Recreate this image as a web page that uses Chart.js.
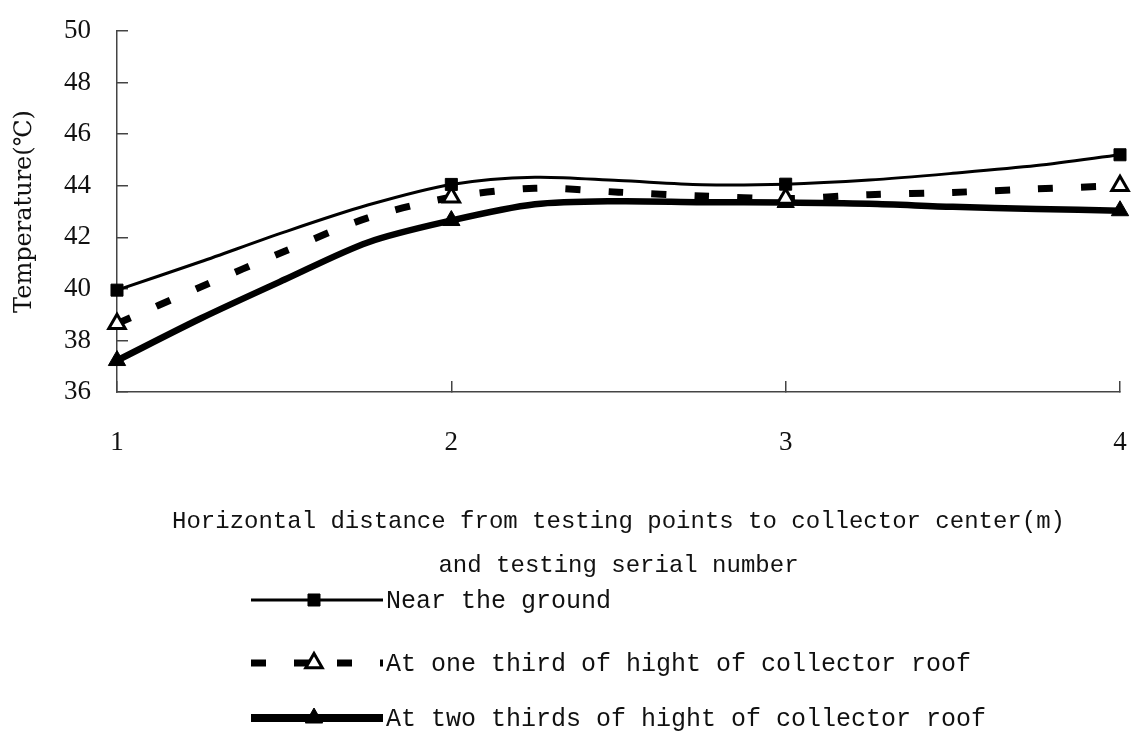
<!DOCTYPE html>
<html>
<head>
<meta charset="utf-8">
<script src="https://cdn.jsdelivr.net/npm/chart.js@4/dist/chart.umd.min.js"></script>
<style>
    html, body { margin: 0; padding: 0; background: #fff; }
    #wrap { width: 1148px; height: 731px; }
</style>
</head>
<body>
<div id="wrap"><canvas id="temp-chart"></canvas></div>
<script>
// values (x = testing serial number / distance)
const xValues = [1, 1.25, 1.5, 1.75, 2, 2.25, 2.5, 2.75, 3, 3.25, 3.5, 3.75, 4];
const nearGround = [39.95, 41.05, 42.2, 43.25, 44.05, 44.33, 44.2, 44.04, 44.06, 44.22, 44.48, 44.78, 45.2];
const oneThird = [38.65, 40.07, 41.45, 42.75, 43.55, 43.9, 43.75, 43.6, 43.5, 43.65, 43.74, 43.88, 44.0];
const twoThirds = [37.22, 38.85, 40.35, 41.8, 42.65, 43.28, 43.4, 43.36, 43.35, 43.3, 43.18, 43.1, 43.03];
const seriesNames = [
    'Near the ground',
    'At one third of hight of collector roof',
    'At two thirds of hight of collector roof'
];
const yTicks = [36, 38, 40, 42, 44, 46, 48, 50];
const xTicks = [1, 2, 3, 4];

function toPoints(values) {
    return xValues.map((x, i) => ({ x: x, y: values[i] }));
}

// markers only on the measured points (integer x)
function markerRadius(size) {
    return (ctx) => (ctx.raw && Number.isInteger(ctx.raw.x)) ? size : 0;
}

const legendLines = {
    id: 'legendLines',
    afterDraw(chart) {
        const ctx = chart.ctx;
        const rows = [600, 663, 718];
        const x0 = 251, x1 = 383, mx = 314;
        chart.data.datasets.forEach((ds, i) => {
            const y = rows[i];
            ctx.save();
            ctx.strokeStyle = ds.borderColor;
            ctx.lineWidth = ds.legendLineWidth || ds.borderWidth;
            ctx.setLineDash(ds.borderDash || []);
            ctx.lineCap = 'butt';
            ctx.beginPath();
            ctx.moveTo(x0, y);
            ctx.lineTo(x1, y);
            ctx.stroke();
            ctx.restore();

            ctx.save();
            ctx.fillStyle = ds.pointBackgroundColor;
            ctx.strokeStyle = ds.pointBorderColor;
            ctx.lineWidth = ds.pointBorderWidth;
            Chart.helpers.drawPoint(ctx, {
                pointStyle: ds.pointStyle,
                radius: ds.legendRadius,
                rotation: 0,
                borderWidth: ds.pointBorderWidth
            }, mx, y);
            ctx.restore();

            ctx.save();
            ctx.fillStyle = '#111';
            ctx.font = '25px "Liberation Mono"';
            ctx.textBaseline = 'middle';
            ctx.fillText(seriesNames[i], x1 + 3, y + 1);
            ctx.restore();
        });
    }
};

const ctx = document.getElementById('temp-chart').getContext('2d');
new Chart(ctx, {
    type: 'line',
    data: {
        datasets: [{
            label: seriesNames[0],
            data: toPoints(nearGround),
            borderColor: '#000',
            borderWidth: 3,
            tension: 0.3,
            clip: false,
            pointStyle: 'rect',
            pointRadius: markerRadius(8.5),
            legendRadius: 8.5,
            pointBackgroundColor: '#000',
            pointBorderColor: '#000',
            pointBorderWidth: 1
        }, {
            label: seriesNames[1],
            data: toPoints(oneThird),
            borderColor: '#000',
            borderWidth: 7,
            borderDash: [15, 28],
            borderCapStyle: 'butt',
            tension: 0.3,
            clip: false,
            pointStyle: 'triangle',
            pointRadius: markerRadius(9.5),
            legendRadius: 9.5,
            pointBackgroundColor: '#fff',
            pointBorderColor: '#000',
            pointBorderWidth: 3
        }, {
            label: seriesNames[2],
            data: toPoints(twoThirds),
            borderColor: '#000',
            borderWidth: 6.5,
            legendLineWidth: 8,
            tension: 0.3,
            clip: false,
            pointStyle: 'triangle',
            pointRadius: markerRadius(10),
            legendRadius: 10,
            pointBackgroundColor: '#000',
            pointBorderColor: '#000',
            pointBorderWidth: 1
        }]
    },
    options: {
        responsive: true,
        maintainAspectRatio: false,
        animation: false,
        events: [],
        layout: {
            padding: { left: 0, right: 28, top: 31, bottom: 139 }
        },
        plugins: {
            legend: { display: false },
            tooltip: { enabled: false }
        },
        scales: {
            x: {
                type: 'linear',
                min: 1,
                max: 4,
                afterBuildTicks: (scale) => { scale.ticks = xTicks.map(v => ({ value: v })); },
                afterFit: (scale) => {
                    scale.height = 200;
                    scale.paddingLeft = 0;
                    scale.paddingRight = 0;
                },
                border: { display: true, color: '#444', width: 1.5 },
                grid: { drawOnChartArea: false, drawTicks: true, tickLength: -11, color: '#444', lineWidth: 1.5 },
                ticks: {
                    padding: 46,
                    color: '#111',
                    font: { family: '"Liberation Serif"', size: 27 }
                },
                title: {
                    display: true,
                    text: ['Horizontal distance from testing points to collector center(m)', 'and testing serial number'],
                    color: '#111',
                    font: { family: '"Liberation Mono"', size: 24, lineHeight: 1.83 },
                    padding: { top: 0, bottom: 4 }
                }
            },
            y: {
                min: 36,
                max: 50,
                afterBuildTicks: (scale) => { scale.ticks = yTicks.map(v => ({ value: v })); },
                afterFit: (scale) => {
                    scale.width = 117;
                    scale.paddingTop = 0;
                    scale.paddingBottom = 0;
                },
                border: { display: true, color: '#444', width: 1.5 },
                grid: { drawOnChartArea: false, drawTicks: true, tickLength: -11, color: '#444', lineWidth: 1.5 },
                ticks: {
                    padding: 37,
                    color: '#111',
                    font: { family: '"Liberation Serif"', size: 27 }
                },
                title: {
                    display: true,
                    text: 'Temperature(℃)',
                    color: '#111',
                    font: { family: '"DejaVu Serif"', size: 24, lineHeight: 1.2 },
                    padding: { top: 10, bottom: 0 }
                }
            }
        }
    },
    plugins: [legendLines]
});
</script>
</body>
</html>
